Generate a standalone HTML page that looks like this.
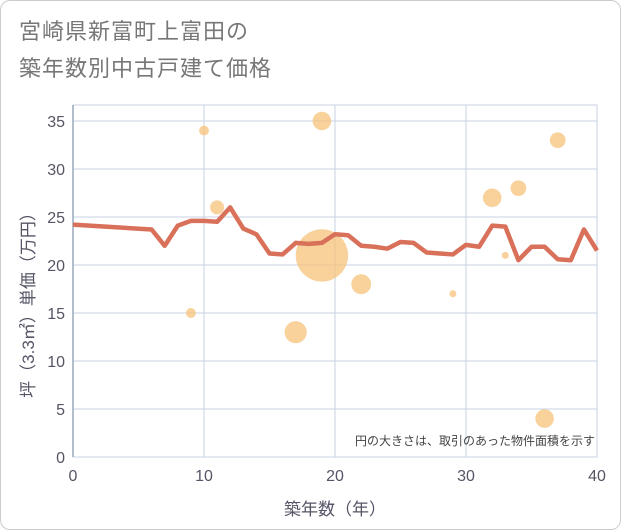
<!DOCTYPE html>
<html><head><meta charset="utf-8"><style>
body{margin:0;background:#fff;font-family:"Liberation Sans","Noto Sans CJK JP",sans-serif;}
#wrap{position:relative;width:619px;height:528px;border:1px solid #ccc;border-radius:10px;overflow:hidden;background:#fff}
#title{position:absolute;left:18px;top:12px;font-size:22px;line-height:37px;color:#777;letter-spacing:1px}
svg{position:absolute;left:0;top:0}
</style></head><body>
<div id="wrap">
<div id="title">宮崎県新富町上富田の<br>築年数別中古戸建て価格</div>
<svg id="c" width="621" height="530"></svg>
</div>
<script>
const lineX=[0,6,7,8,9,10,11,12,13,14,15,16,17,18,19,20,21,22,23,24,25,26,27,28,29,30,31,32,33,34,35,36,37,38,39,40];
const lineY=[24.2,23.7,22.0,24.1,24.6,24.6,24.5,26.0,23.8,23.2,21.2,21.1,22.3,22.2,22.3,23.2,23.1,22.0,21.9,21.7,22.4,22.3,21.3,21.2,21.1,22.1,21.9,24.1,24.0,20.5,21.9,21.9,20.6,20.5,23.7,21.5];
const bubX=[9,10,11,17,19,19,22,29,32,33,34,36,37];
const bubY=[15,34,26,13,35,21,18,17,27,21,28,4,33];
const bubS=[2,2,4,10,7,56,8,1,7,1,5,7,5];
const xTicks=[0,10,20,30,40];
const yTicks=[0,5,10,15,20,25,30,35];
const L=72,R=596,T=104,B=456;
const sx=v=>L+(v-0)/40*(R-L);
const sy=v=>B-v/35*(B-120);
const svg=document.getElementById('c');const NS='http://www.w3.org/2000/svg';
function mk(t,a,p){const e=document.createElementNS(NS,t);for(const k in a)e.setAttribute(k,a[k]);(p||svg).appendChild(e);return e;}
const bg=mk('rect',{x:L,y:T,width:R-L,height:B-T,fill:'#fff',stroke:'none'});


xTicks.forEach(t=>{
 const g=mk('line',{x1:sx(t),x2:sx(t),y1:T,y2:B,stroke:'#c8d3e3','stroke-width':1});
 
 
 const tx=mk('text',{x:sx(t),y:B+24,'text-anchor':'middle','font-size':16,fill:'#556'});tx.textContent=t;
 
 
});
yTicks.forEach(t=>{
 const g=mk('line',{x1:L,x2:R,y1:sy(t),y2:sy(t),stroke:'#c8d3e3','stroke-width':1});
 
 
 const tx=mk('text',{x:L-8,y:sy(t)+6,'text-anchor':'end','font-size':16,fill:'#556'});tx.textContent=t;
 
 
});
const fr=mk('rect',{x:L,y:T,width:R-L,height:B-T,fill:'none',stroke:'#c8d3e3'});


const ax=mk('line',{x1:L,x2:L,y1:T,y2:B,stroke:'#9aa8bb','stroke-width':1.5});


bubX.forEach((x,i)=>{
 const c=mk('circle',{cx:sx(x),cy:sy(bubY[i]),r:3.5*Math.sqrt(bubS[i]),fill:'#f5c27a','fill-opacity':0.75});
 
 
});
const p=mk('polyline',{points:lineX.map((x,i)=>sx(x)+','+sy(lineY[i])).join(' '),fill:'none',stroke:'#d9705a','stroke-width':4.5,'stroke-linejoin':'round'});


const note=mk('text',{x:R-2,y:B-12,'text-anchor':'end','font-size':12,fill:'#444'});note.textContent='円の大きさは、取引のあった物件面積を示す';


const xt=mk('text',{x:(L+R)/2,y:B+58,'text-anchor':'middle','font-size':17,fill:'#556'});xt.textContent='築年数（年）';


const yt=mk('text',{x:0,y:0,'text-anchor':'middle','font-size':17,fill:'#556',transform:'translate(33,'+((T+B)/2+20)+') rotate(-90)'});yt.textContent='坪（3.3㎡）単価（万円）';


</script>
</body></html>
